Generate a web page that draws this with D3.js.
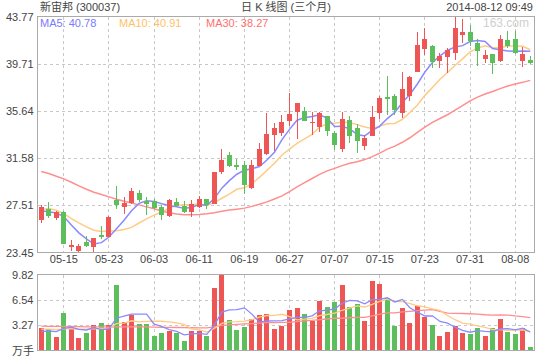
<!DOCTYPE html>
<html><head><meta charset="utf-8">
<script src="https://cdn.jsdelivr.net/npm/d3@7"></script>
<style>
body{margin:0;background:#fff}
svg{display:block}
text{font-family:Arial,"Liberation Sans","Noto Sans CJK SC",sans-serif;}
</style>
</head><body>
<svg id="chart" width="540" height="360"></svg>
<script>
const dates = ["05-12","05-13","05-14","05-15","05-16","05-19","05-20","05-21","05-22","05-23","05-26","05-27","05-28","05-29","05-30","06-03","06-04","06-05","06-06","06-09","06-10","06-11","06-12","06-13","06-16","06-17","06-18","06-19","06-20","06-23","06-24","06-25","06-26","06-27","06-30","07-01","07-02","07-03","07-04","07-07","07-08","07-09","07-10","07-11","07-14","07-15","07-16","07-17","07-18","07-21","07-22","07-23","07-24","07-25","07-28","07-29","07-30","07-31","08-01","08-04","08-05","08-06","08-07","08-08","08-11","08-12"];
const opens = [26.23,27.21,26.43,26.92,23.93,23.59,24.33,23.93,24.94,24.76,27.95,27.35,27.69,28.56,27.87,27.87,27.35,26.57,27.78,27.44,26.92,27.35,28.04,27.61,30.37,31.83,30.97,30.97,28.99,30.88,31.92,33.56,33.73,34.76,35.54,35.63,34.59,34.25,35.19,33.73,32.35,34.85,34.16,32.61,33.47,35.45,36.83,36.92,35.45,36.92,38.99,40.97,41.23,39.93,40.28,40.62,42.18,42.43,41.49,40.11,40.54,39.93,41.74,41.83,39.93,40.02];
const highs = [27.52,27.78,27.00,27.00,24.51,24.22,24.85,24.68,25.71,26.57,29.16,28.21,28.99,28.82,28.21,28.04,27.52,28.04,28.13,27.87,27.95,28.30,28.04,30.37,32.35,32.09,31.49,31.31,31.40,32.87,35.45,34.59,35.28,37.18,36.31,35.97,35.54,35.54,35.19,33.90,35.54,35.19,34.50,33.56,36.06,36.92,38.64,37.09,38.99,38.64,42.43,42.78,41.31,40.62,41.05,43.77,43.55,43.04,41.83,40.88,40.54,42.18,42.52,42.52,41.14,40.37];
const lows = [26.00,26.43,26.23,24.16,23.59,23.50,23.93,23.45,24.59,24.76,27.18,26.75,27.61,27.78,26.66,27.18,26.23,26.49,27.35,26.83,26.49,27.26,27.18,27.61,30.19,30.80,30.54,28.47,28.90,30.88,31.83,32.18,33.47,34.33,33.18,34.76,33.56,33.82,33.47,32.26,32.09,32.87,32.01,32.26,33.47,34.94,35.28,35.28,35.02,36.49,38.99,40.45,39.33,39.33,38.90,40.02,41.49,41.23,39.50,39.76,38.81,39.85,41.05,40.54,39.42,39.68];
const closes = [27.38,26.57,26.92,24.16,24.08,23.99,23.99,24.68,24.76,26.49,27.52,27.69,28.73,27.95,27.61,27.26,26.66,27.95,27.44,26.92,27.61,28.04,27.52,30.37,31.40,30.88,30.80,29.25,30.97,32.35,33.67,34.16,34.68,35.37,36.31,34.76,34.68,35.45,33.90,32.69,34.94,33.47,33.04,33.30,35.11,36.75,36.69,35.71,37.52,38.56,41.31,41.83,39.85,40.37,40.88,42.78,42.43,41.66,40.80,40.45,39.76,41.83,41.23,40.62,40.54,39.76];
const ma5 = [27.05,26.95,26.85,26.55,25.82,25.14,24.63,24.18,24.30,24.78,25.49,26.23,27.04,27.68,27.90,27.85,27.64,27.49,27.38,27.25,27.32,27.59,27.51,28.09,28.99,29.64,30.19,30.54,30.66,30.85,31.41,32.08,33.17,34.05,34.84,35.06,35.16,35.31,35.02,34.30,34.33,34.09,33.61,33.49,33.97,34.33,34.98,35.51,36.36,37.05,37.96,38.99,39.81,40.38,40.85,41.14,41.26,41.62,41.71,41.62,41.02,40.90,40.81,40.78,40.80,40.78];
const ma10 = [27.18,27.23,27.09,26.80,26.37,26.00,25.65,25.37,25.25,25.30,25.32,25.43,25.61,25.99,26.34,26.67,26.94,27.26,27.53,27.57,27.58,27.62,27.50,27.74,28.12,28.48,28.89,29.02,29.38,29.92,30.53,31.14,31.85,32.35,32.84,33.23,33.62,34.24,34.53,34.57,34.69,34.63,34.46,34.25,34.13,34.33,34.53,34.56,34.92,35.51,36.15,36.98,37.66,38.37,38.95,39.55,40.12,40.72,41.05,41.24,41.08,41.08,41.22,41.24,41.21,40.91];
const ma30 = [30.42,30.25,30.02,29.79,29.50,29.19,28.90,28.64,28.44,28.24,28.04,27.87,27.72,27.55,27.38,27.21,27.03,26.88,26.76,26.70,26.69,26.72,26.78,26.88,27.00,27.10,27.18,27.27,27.42,27.60,27.81,28.06,28.32,28.69,29.10,29.46,29.82,30.18,30.48,30.69,30.93,31.13,31.27,31.45,31.70,32.01,32.35,32.61,32.94,33.33,33.79,34.25,34.66,34.99,35.31,35.71,36.09,36.51,36.83,37.10,37.31,37.56,37.78,37.96,38.10,38.27];
const volumes = [2.91,2.73,1.74,4.85,2.78,1.62,2.26,3.29,3.55,3.29,8.46,3.68,4.59,3.42,3.42,1.87,2.26,2.52,2.26,1.23,2.52,2.52,1.87,8.08,9.82,3.94,2.65,3.04,4.07,4.59,4.72,2.78,3.17,5.23,5.49,4.72,3.81,6.40,5.62,6.27,8.46,5.62,6.01,3.81,8.98,8.59,6.78,3.17,5.49,3.55,5.75,4.33,3.29,1.87,2.39,3.17,2.26,2.13,2.91,1.87,2.91,4.07,2.39,2.13,2.91,0.45];
const volMa5 = [2.43,2.52,2.43,2.86,3.00,2.74,2.65,2.96,2.70,2.80,4.17,4.45,4.71,4.69,4.71,3.40,3.11,2.70,2.47,2.03,2.16,2.21,2.08,3.24,4.96,5.25,5.27,5.51,4.70,3.66,3.81,3.84,3.87,4.10,4.28,4.28,4.48,5.13,5.21,5.36,6.11,6.47,6.40,6.03,6.58,6.60,6.83,6.27,6.60,5.52,4.95,4.46,4.48,3.76,3.53,3.01,2.60,2.36,2.57,2.47,2.42,2.78,2.83,2.67,2.88,2.39];
const volMa10 = [2.75,2.75,2.70,2.80,2.80,2.78,2.75,2.80,2.85,2.90,3.46,3.55,3.84,3.69,3.76,3.78,3.78,3.71,3.58,3.37,2.78,2.66,2.39,2.86,3.50,3.71,3.74,3.80,3.98,4.31,4.52,4.55,4.68,4.39,3.97,4.05,4.16,4.50,4.65,4.82,5.20,5.48,5.76,5.62,5.97,6.36,6.65,6.33,6.32,6.05,5.78,5.65,5.37,5.18,4.52,3.98,3.53,3.42,3.17,3.00,2.71,2.69,2.60,2.62,2.68,2.40];
const volMa30 = [3.15,3.13,3.12,3.12,3.10,3.08,3.06,3.05,3.04,3.03,3.05,3.05,3.06,3.05,3.04,3.02,3.00,2.98,2.97,2.95,2.94,2.93,2.92,3.05,3.25,3.32,3.38,3.43,3.48,3.53,3.59,3.59,3.64,3.65,3.74,3.84,3.89,4.00,4.07,4.17,4.17,4.23,4.28,4.29,4.48,4.70,4.85,4.87,4.98,5.06,5.16,5.22,5.27,5.07,4.82,4.79,4.78,4.75,4.71,4.62,4.56,4.60,4.58,4.47,4.39,4.25];
const priceTicks = [23.45,27.51,31.58,35.64,39.71,43.77];
const volTicks = [3.27,6.54,9.82];
const dateTicks = ["05-15","05-23","06-03","06-11","06-19","06-27","07-07","07-15","07-23","07-31","08-08"];
const titleLeft = "新宙邦 (300037)";
const titleMid = "日 K 线图 (三个月)";
const titleRight = "2014-08-12 09:49";
const legendItems = [["MA5: 40.78","#7a7aff"],["MA10: 40.91","#ffbf66"],["MA30: 38.27","#ff6f6f"]];
const volUnit = "万手";

const UP = "#ee5656", DOWN = "#5cbf5c";
const C5 = "#8a8aff", C10 = "#ffcb85", C30 = "#ff8e8e";
const GRID = "#c8c8c8", BORDER = "#aaaaaa", TXT = "#444";

const L = 37.5, R = 534.5, PT = 16.5, PB = 252.5, VT = 274.5, VB = 350.5;
const svg = d3.select("#chart");

const x = d3.scaleBand().domain(dates).range([L, R - 0.5]).padding(0);
const cx = d => x(d) + x.bandwidth() / 2;
const y = d3.scaleLinear().domain([23.45, 43.77]).range([PB, PT]);
const yv = d3.scaleLinear().domain([0, 9.82]).range([VB, VT]);

const data = dates.map((d, i) => ({d, o: opens[i], h: highs[i], l: lows[i], c: closes[i], v: volumes[i],
  m5: ma5[i], m10: ma10[i], m30: ma30[i], vm5: volMa5[i], vm10: volMa10[i], vm30: volMa30[i]}));

// grids
const grid = svg.append("g").attr("stroke", GRID).attr("stroke-dasharray", "3,3").attr("shape-rendering", "crispEdges");
priceTicks.slice(1, -1).forEach(t => {
  grid.append("line").attr("x1", L).attr("x2", R).attr("y1", Math.round(y(t)) + 0.5).attr("y2", Math.round(y(t)) + 0.5);
});
volTicks.slice(0, -1).forEach(t => {
  grid.append("line").attr("x1", L).attr("x2", R).attr("y1", Math.round(yv(t)) + 0.5).attr("y2", Math.round(yv(t)) + 0.5);
});
dateTicks.forEach(t => {
  const gx = Math.floor(cx(t)) + 0.5;
  grid.append("line").attr("x1", gx).attr("x2", gx).attr("y1", PT).attr("y2", PB);
  grid.append("line").attr("x1", gx).attr("x2", gx).attr("y1", VT).attr("y2", VB);
});

// watermark
svg.append("text").attr("x", 529).attr("y", 27).attr("text-anchor", "end")
  .attr("font-size", 12).attr("fill", "#cfcfcf").text("163.com");

// legend
const legX = [40, 119, 206];
legendItems.forEach((it, i) => {
  svg.append("text").attr("x", legX[i]).attr("y", 27).attr("font-size", 11).attr("fill", it[1]).text(it[0]);
});

// MA lines price
const lineP = key => d3.line().x(d => cx(d.d)).y(d => y(d[key]));
[["m30", C30], ["m10", C10], ["m5", C5]].forEach(([k, col]) => {
  svg.append("path").datum(data).attr("fill", "none").attr("stroke", col).attr("stroke-width", 1.5).attr("d", lineP(k));
});

// candles
const cg = svg.append("g").attr("shape-rendering", "crispEdges");
data.forEach(d => {
  const col = d.c >= d.o ? UP : DOWN;
  const xc = Math.floor(cx(d.d));
  cg.append("line").attr("x1", xc + 0.5).attr("x2", xc + 0.5).attr("y1", y(d.h)).attr("y2", y(d.l)).attr("stroke", col);
  const top = y(Math.max(d.o, d.c)), bot = y(Math.min(d.o, d.c));
  cg.append("rect").attr("x", xc - 2).attr("width", 5).attr("y", top).attr("height", Math.max(1, bot - top)).attr("fill", col);
});

// volume bars
const vg = svg.append("g").attr("shape-rendering", "crispEdges");
data.forEach(d => {
  const col = d.c >= d.o ? UP : DOWN;
  const xc = Math.floor(cx(d.d));
  vg.append("rect").attr("x", xc - 2).attr("width", 5).attr("y", yv(d.v)).attr("height", VB - yv(d.v)).attr("fill", col);
});
const lineV = key => d3.line().x(d => cx(d.d)).y(d => yv(d[key]));
[["vm30", C30], ["vm10", C10], ["vm5", C5]].forEach(([k, col]) => {
  svg.append("path").datum(data).attr("fill", "none").attr("stroke", col).attr("stroke-width", 1.3).attr("d", lineV(k));
});

// borders
svg.append("rect").attr("x", L).attr("y", PT).attr("width", R - L).attr("height", PB - PT)
  .attr("fill", "none").attr("stroke", BORDER).attr("shape-rendering", "crispEdges");
svg.append("rect").attr("x", L).attr("y", VT).attr("width", R - L).attr("height", VB - VT)
  .attr("fill", "none").attr("stroke", BORDER).attr("shape-rendering", "crispEdges");

// axes
const fmt = d3.format(".2f");
const ay = svg.append("g").attr("transform", `translate(${L},0)`)
  .call(d3.axisLeft(y).tickValues(priceTicks).tickFormat(fmt).tickSize(0).tickPadding(4));
const avy = svg.append("g").attr("transform", `translate(${L},0)`)
  .call(d3.axisLeft(yv).tickValues(volTicks).tickFormat(fmt).tickSize(0).tickPadding(4));
const ax = svg.append("g").attr("transform", `translate(0,${PB})`)
  .call(d3.axisBottom(x).tickValues(dateTicks).tickSize(0).tickPadding(3));
[ay, avy, ax].forEach(g => {
  g.select(".domain").remove();
  g.selectAll("text").attr("font-size", 11).attr("fill", TXT).attr("font-family", 'Arial,"Liberation Sans",sans-serif');
});
svg.append("text").attr("x", 34).attr("y", VB + 4).attr("text-anchor", "end")
  .attr("font-size", 11).attr("fill", TXT).text(volUnit);

// header
svg.append("text").attr("x", 40).attr("y", 11).attr("font-size", 11).attr("fill", TXT).text(titleLeft);
svg.append("text").attr("x", 286).attr("y", 11).attr("text-anchor", "middle").attr("font-size", 11).attr("fill", TXT).text(titleMid);
svg.append("text").attr("x", 533).attr("y", 11).attr("text-anchor", "end").attr("font-size", 11).attr("fill", TXT).text(titleRight);
</script>
</body></html>
